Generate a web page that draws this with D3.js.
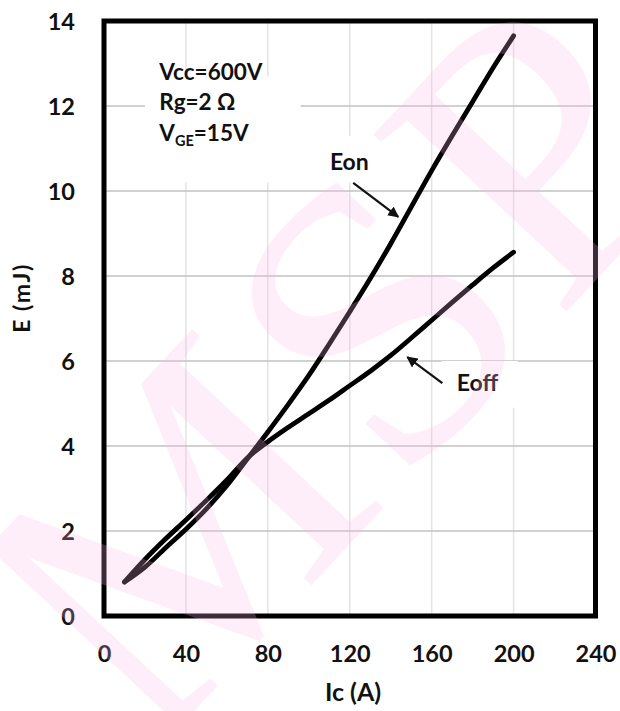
<!DOCTYPE html>
<html>
<head>
<meta charset="utf-8">
<script src="https://cdn.jsdelivr.net/npm/d3@7"></script>
<style>
  html, body { margin: 0; padding: 0; background: #fff; }
  svg { display: block; }
  text { font-family: Lato, "Open Sans", "Liberation Sans", sans-serif; font-weight: 700; fill: #111; }
</style>
</head>
<body>
<svg id="chart" width="620" height="711"></svg>
<script>
// Switching energy vs collector current
const current = [10, 20, 30, 40, 50, 60, 70, 80, 90, 100, 110, 120, 130, 140, 150, 160, 170, 180, 190, 200];
const eon  = [0.80, 1.15, 1.60, 2.04, 2.52, 3.07, 3.70, 4.33, 4.98, 5.66, 6.40, 7.16, 7.94, 8.76, 9.62, 10.48, 11.30, 12.10, 12.90, 13.65];
const eoff = [0.80, 1.33, 1.81, 2.26, 2.72, 3.20, 3.72, 4.10, 4.44, 4.76, 5.08, 5.42, 5.76, 6.13, 6.54, 6.96, 7.38, 7.79, 8.19, 8.56];

const xTicks = [0, 40, 80, 120, 160, 200, 240];
const yTicks = [0, 2, 4, 6, 8, 10, 12, 14];

const conditions = ["Vcc=600V", "Rg=2 Ω", "=15V"];

const svg = d3.select("#chart");
const W = 620, H = 711;
const m = { left: 104, right: 595.5, top: 21, bottom: 616 };

const x = d3.scaleLinear().domain([0, 240]).range([m.left, m.right]);
const y = d3.scaleLinear().domain([0, 14]).range([m.bottom, m.top]);

svg.append("rect").attr("width", W).attr("height", H).attr("fill", "#fff");

// grid
const grid = svg.append("g");
grid.selectAll("line.v").data(xTicks.slice(1, -1)).join("line")
  .attr("class", "v")
  .attr("x1", d => x(d)).attr("x2", d => x(d))
  .attr("y1", m.top).attr("y2", m.bottom)
  .attr("stroke", "#e3e3e3").attr("stroke-width", 1.5);
grid.selectAll("line.h").data(yTicks.slice(1, -1)).join("line")
  .attr("class", "h")
  .attr("x1", m.left).attr("x2", m.right)
  .attr("y1", d => y(d)).attr("y2", d => y(d))
  .attr("stroke", "#c2c2c2").attr("stroke-width", 1.5);

// white label boxes that sit over the grid
const boxes = [
  { x0: 20, x1: 96, y0: 12.7, y1: 10.2 },
  { x0: 103, x1: 137, y0: 11.3, y1: 10.2 },
  { x0: 165, x1: 202, y0: 6.0, y1: 4.9 }
];
svg.append("g").selectAll("rect").data(boxes).join("rect")
  .attr("x", d => x(d.x0)).attr("y", d => y(d.y0))
  .attr("width", d => x(d.x1) - x(d.x0)).attr("height", d => y(d.y1) - y(d.y0))
  .attr("fill", "#fff");

// axes (labels only)
const tickFont = g => g.selectAll("text")
  .style("font-size", "23.5px").style("font-family", "Lato, sans-serif")
  .style("font-weight", 700).style("fill", "#111");

const xAxis = d3.axisBottom(x).tickValues(xTicks).tickSize(0).tickPadding(0);
const gx = svg.append("g").attr("transform", `translate(0,${m.bottom})`).call(xAxis);
gx.select(".domain").remove();
gx.selectAll("text").attr("dy", null).attr("y", 46);
gx.call(tickFont);

const yAxis = d3.axisLeft(y).tickValues(yTicks).tickSize(0).tickPadding(0);
const gy = svg.append("g").attr("transform", `translate(${m.left},0)`).call(yAxis);
gy.select(".domain").remove();
gy.selectAll("text").attr("x", -29).attr("dy", "0.36em");
gy.call(tickFont);

// curves
const line = d3.line().x(d => x(d[0])).y(d => y(d[1])).curve(d3.curveMonotoneX);
const series = [eoff, eon].map(vals => current.map((c, i) => [c, vals[i]]));
svg.append("g").selectAll("path").data(series).join("path")
  .attr("d", line)
  .attr("fill", "none").attr("stroke", "#000").attr("stroke-width", 4.8)
  .attr("stroke-linecap", "round").attr("stroke-linejoin", "round");

// frame
svg.append("rect")
  .attr("x", m.left).attr("y", m.top)
  .attr("width", m.right - m.left).attr("height", m.bottom - m.top)
  .attr("fill", "none").attr("stroke", "#000").attr("stroke-width", 5);

// condition text
const cond = svg.append("g").style("font-size", "22.5px");
cond.append("text").attr("x", x(27)).attr("y", y(12.62)).text(conditions[0]);
cond.append("text").attr("x", x(27)).attr("y", y(11.9)).text(conditions[1]);
const vge = cond.append("text").attr("x", x(27)).attr("y", y(11.17));
vge.append("tspan").text("V");
vge.append("tspan").attr("dy", 5).style("font-size", "14.5px").text("GE");
vge.append("tspan").attr("dy", -5).text(conditions[2]);

// series labels with arrows
const defs = svg.append("defs");
defs.append("marker").attr("id", "arrow").attr("viewBox", "0 0 10 10")
  .attr("refX", 9).attr("refY", 5).attr("markerWidth", 5).attr("markerHeight", 5)
  .attr("orient", "auto")
  .append("path").attr("d", "M0,0 L10,5 L0,10 z").attr("fill", "#111");

const labels = [
  { name: "Eon",  tx: 110.3, ty: 10.5, from: [121.7, 10.19], to: [143.7, 9.39] },
  { name: "Eoff", tx: 172.3, ty: 5.3,  from: [165.2, 5.48],  to: [148.1, 6.09] }
];
labels.forEach(l => {
  svg.append("text").attr("x", x(l.tx)).attr("y", y(l.ty)).style("font-size", "23px").text(l.name);
  svg.append("line")
    .attr("x1", x(l.from[0])).attr("y1", y(l.from[1]))
    .attr("x2", x(l.to[0])).attr("y2", y(l.to[1]))
    .attr("stroke", "#111").attr("stroke-width", 2.2).attr("marker-end", "url(#arrow)");
});

// axis titles
svg.append("text").attr("x", 353).attr("y", 701)
  .attr("text-anchor", "middle").style("font-size", "25px").text("Ic (A)");
svg.append("text").attr("transform", "translate(30,298) rotate(-90)")
  .attr("text-anchor", "middle").style("font-size", "23px").style("letter-spacing", "1.5px")
  .text("E  (mJ)");

// faint watermark lettering, laid over the plot
svg.append("text")
  .attr("transform", "translate(330,360) rotate(-47)")
  .attr("text-anchor", "middle").attr("dy", "0.35em")
  .style("font-family", "'Liberation Serif', serif").style("font-weight", 400)
  .style("font-size", "400px").style("letter-spacing", "10px")
  .style("fill", "rgb(250,185,228)").style("fill-opacity", 0.24)
  .style("pointer-events", "none")
  .text("MSP");
</script>
</body>
</html>
